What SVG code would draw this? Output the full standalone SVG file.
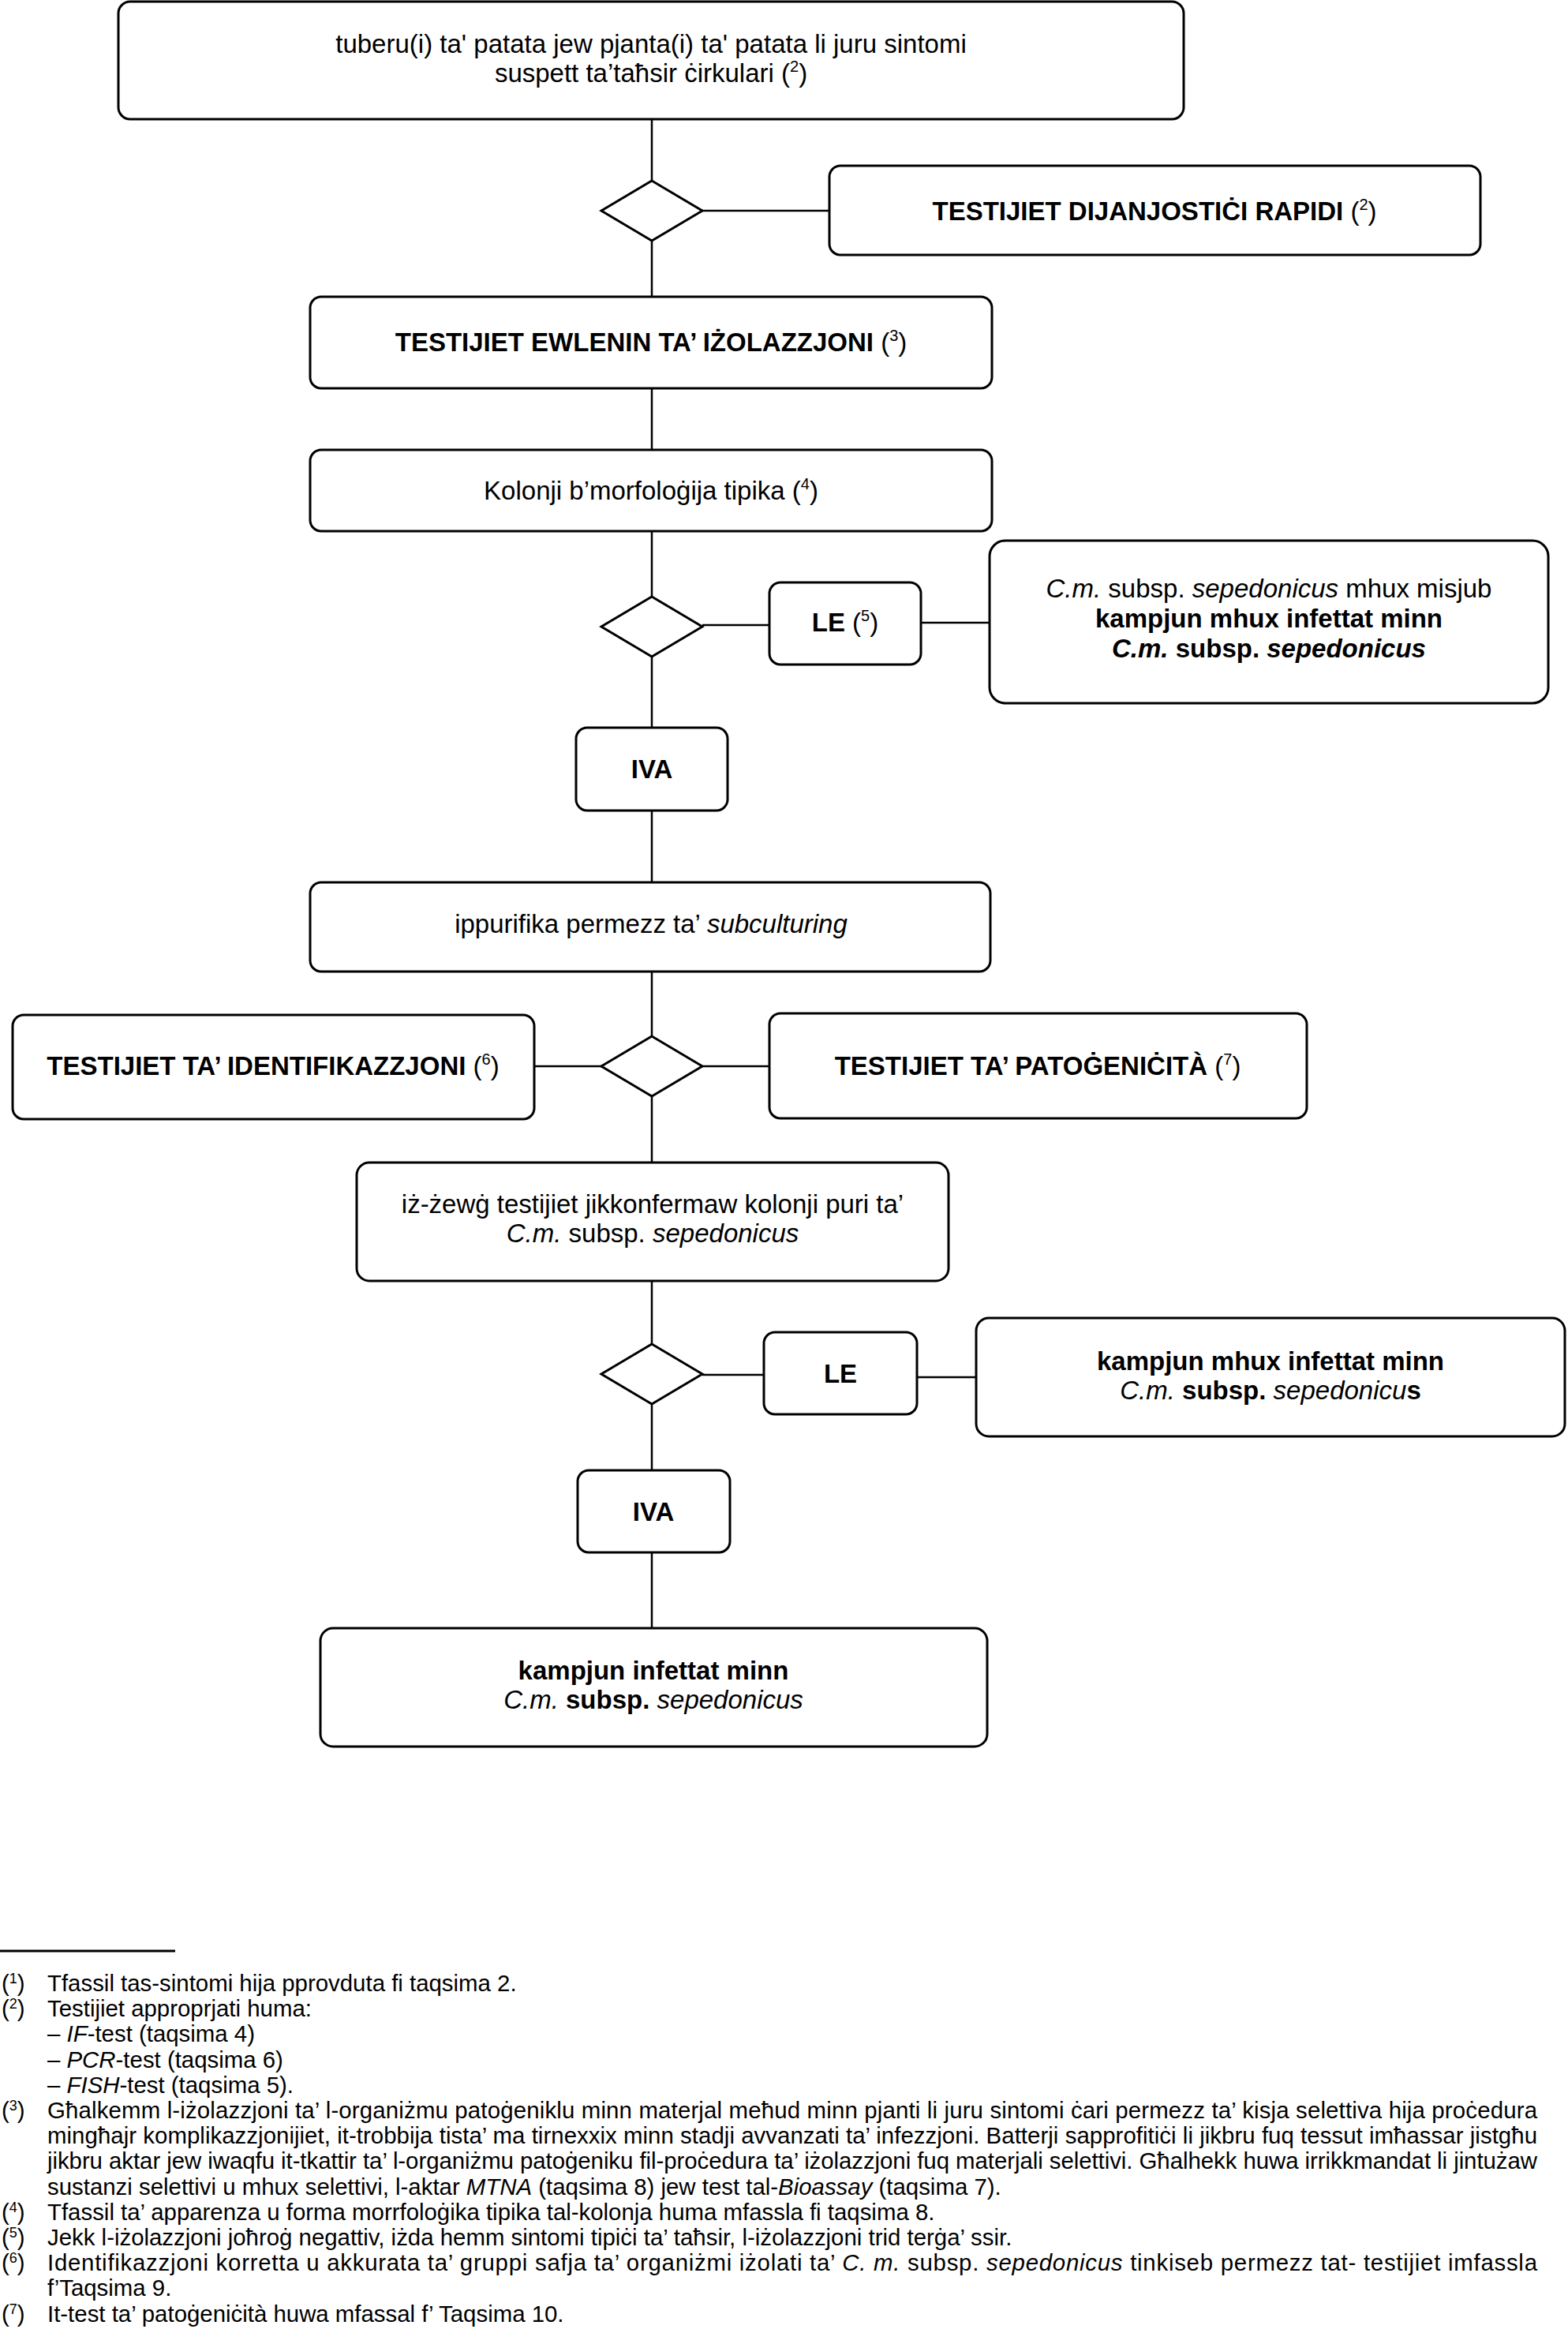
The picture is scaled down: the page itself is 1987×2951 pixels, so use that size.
<svg xmlns="http://www.w3.org/2000/svg" width="1987" height="2951" viewBox="0 0 1987 2951">
<style>
.box{fill:#fff;stroke:#000;stroke-width:3}
.conn{stroke:#000;stroke-width:2.5;fill:none}
.t{font-family:"Liberation Sans",Arial,sans-serif;font-size:33px;fill:#000;text-anchor:middle}
.b{font-weight:bold}
.i{font-style:italic}
.n{font-weight:normal}
.sup{font-size:20px;font-weight:normal}
.fn{font-family:"Liberation Sans",Arial,sans-serif;font-size:29.4px;fill:#000}
.fs{font-size:18px}
</style>
<rect width="1987" height="2951" fill="#fff"/>
<g id="connectors">
<line class="conn" x1="826" y1="151" x2="826" y2="229"/>
<line class="conn" x1="826" y1="305" x2="826" y2="376"/>
<line class="conn" x1="826" y1="492" x2="826" y2="570"/>
<line class="conn" x1="826" y1="673" x2="826" y2="756"/>
<line class="conn" x1="826" y1="832" x2="826" y2="922"/>
<line class="conn" x1="826" y1="1027" x2="826" y2="1118"/>
<line class="conn" x1="826" y1="1231" x2="826" y2="1313"/>
<line class="conn" x1="826" y1="1389" x2="826" y2="1473"/>
<line class="conn" x1="826" y1="1623" x2="826" y2="1703"/>
<line class="conn" x1="826" y1="1779" x2="826" y2="1863"/>
<line class="conn" x1="826" y1="1967" x2="826" y2="2063"/>
<line class="conn" x1="890" y1="267" x2="1051" y2="267"/>
<line class="conn" x1="890" y1="792" x2="975" y2="792"/>
<line class="conn" x1="1167" y1="789" x2="1254" y2="789"/>
<line class="conn" x1="677" y1="1351" x2="762" y2="1351"/>
<line class="conn" x1="890" y1="1351" x2="975" y2="1351"/>
<line class="conn" x1="890" y1="1742" x2="968" y2="1742"/>
<line class="conn" x1="1162" y1="1745" x2="1237" y2="1745"/>
</g>
<g id="n-start">
<rect class="box" x="150" y="2" width="1350" height="149" rx="15"/>
<text class="t" x="825" y="67">tuberu(i) ta' patata jew pjanta(i) ta' patata li juru sintomi</text>
<text class="t" x="825" y="104">suspett ta’taħsir ċirkulari (<tspan class="sup" dy="-13">2</tspan><tspan dy="13">)</tspan></text>
</g>
<g id="d1"><polygon class="box" points="826,229 890,267 826,305 762,267"/></g>
<g id="n-rapid">
<rect class="box" x="1051" y="210" width="825" height="113" rx="14"/>
<text class="t" x="1463" y="279"><tspan class="b">TESTIJIET DIJANJOSTIĊI RAPIDI</tspan> (<tspan class="sup" dy="-13">2</tspan><tspan dy="13">)</tspan></text>
</g>
<g id="n-isolation">
<rect class="box" x="393" y="376" width="864" height="116" rx="14"/>
<text class="t" x="825" y="445"><tspan class="b">TESTIJIET EWLENIN TA’ IŻOLAZZJONI</tspan> (<tspan class="sup" dy="-13">3</tspan><tspan dy="13">)</tspan></text>
</g>
<g id="n-colonies">
<rect class="box" x="393" y="570" width="864" height="103" rx="14"/>
<text class="t" x="825" y="633">Kolonji b’morfoloġija tipika (<tspan class="sup" dy="-13">4</tspan><tspan dy="13">)</tspan></text>
</g>
<g id="d2"><polygon class="box" points="826,756 890,794 826,832 762,794"/></g>
<g id="n-le1">
<rect class="box" x="975" y="738" width="192" height="104" rx="14"/>
<text class="t" x="1071" y="800"><tspan class="b">LE</tspan> (<tspan class="sup" dy="-13">5</tspan><tspan dy="13">)</tspan></text>
</g>
<g id="n-notfound">
<rect class="box" x="1254" y="685" width="708" height="206" rx="20"/>
<text class="t" x="1608" y="757"><tspan class="i">C.m.</tspan> subsp. <tspan class="i">sepedonicus</tspan> mhux misjub</text>
<text class="t b" x="1608" y="795">kampjun mhux infettat minn</text>
<text class="t b" x="1608" y="833"><tspan class="i">C.m.</tspan> subsp. <tspan class="i">sepedonicus</tspan></text>
</g>
<g id="n-iva1">
<rect class="box" x="730" y="922" width="192" height="105" rx="14"/>
<text class="t b" x="826" y="986">IVA</text>
</g>
<g id="n-purify">
<rect class="box" x="393" y="1118" width="862" height="113" rx="14"/>
<text class="t" x="825" y="1182">ippurifika permezz ta’ <tspan class="i">subculturing</tspan></text>
</g>
<g id="d3"><polygon class="box" points="826,1313 890,1351 826,1389 762,1351"/></g>
<g id="n-ident">
<rect class="box" x="16" y="1286" width="661" height="132" rx="14"/>
<text class="t" x="346" y="1362"><tspan class="b">TESTIJIET TA’ IDENTIFIKAZZJONI</tspan> (<tspan class="sup" dy="-13">6</tspan><tspan dy="13">)</tspan></text>
</g>
<g id="n-patho">
<rect class="box" x="975" y="1284" width="681" height="133" rx="14"/>
<text class="t" x="1315" y="1362"><tspan class="b">TESTIJIET TA’ PATOĠENIĊITÀ</tspan> (<tspan class="sup" dy="-13">7</tspan><tspan dy="13">)</tspan></text>
</g>
<g id="n-confirm">
<rect class="box" x="452" y="1473" width="750" height="150" rx="16"/>
<text class="t" x="827" y="1537">iż-żewġ testijiet jikkonfermaw kolonji puri ta’</text>
<text class="t" x="827" y="1574"><tspan class="i">C.m.</tspan> subsp. <tspan class="i">sepedonicus</tspan></text>
</g>
<g id="d4"><polygon class="box" points="826,1703 890,1741 826,1779 762,1741"/></g>
<g id="n-le2">
<rect class="box" x="968" y="1688" width="194" height="104" rx="14"/>
<text class="t b" x="1065" y="1752">LE</text>
</g>
<g id="n-notinfected">
<rect class="box" x="1237" y="1670" width="746" height="150" rx="16"/>
<text class="t b" x="1610" y="1736">kampjun mhux infettat minn</text>
<text class="t" x="1610" y="1773"><tspan class="i">C.m.</tspan><tspan class="b"> subsp.</tspan> <tspan class="i">sepedonicu</tspan><tspan class="b">s</tspan></text>
</g>
<g id="n-iva2">
<rect class="box" x="732" y="1863" width="193" height="104" rx="14"/>
<text class="t b" x="828" y="1927">IVA</text>
</g>
<g id="n-infected">
<rect class="box" x="406" y="2063" width="845" height="150" rx="16"/>
<text class="t b" x="828" y="2128">kampjun infettat minn</text>
<text class="t" x="828" y="2165"><tspan class="i">C.m.</tspan><tspan class="b"> subsp.</tspan> <tspan class="i">sepedonicus</tspan></text>
</g>
<g id="footnotes">
<line x1="0" y1="2472" x2="222" y2="2472" stroke="#000" stroke-width="3"/>
<text class="fn" x="2" y="2523">(<tspan class="fs" dy="-10">1</tspan><tspan dy="10">)</tspan></text>
<text class="fn" x="60" y="2523">Tfassil tas-sintomi hija pprovduta fi taqsima 2.</text>
<text class="fn" x="2" y="2555">(<tspan class="fs" dy="-10">2</tspan><tspan dy="10">)</tspan></text>
<text class="fn" x="60" y="2555">Testijiet approprjati huma:</text>
<text class="fn" x="60" y="2587">– <tspan class="i">IF</tspan>-test (taqsima 4)</text>
<text class="fn" x="60" y="2620">– <tspan class="i">PCR</tspan>-test (taqsima 6)</text>
<text class="fn" x="60" y="2652">– <tspan class="i">FISH</tspan>-test (taqsima 5).</text>
<text class="fn" x="2" y="2684">(<tspan class="fs" dy="-10">3</tspan><tspan dy="10">)</tspan></text>
<text class="fn" x="60" y="2684" textLength="1888">Għalkemm l-iżolazzjoni ta’ l-organiżmu patoġeniklu minn materjal meħud minn pjanti li juru sintomi ċari permezz ta’ kisja selettiva hija proċedura</text>
<text class="fn" x="60" y="2716" textLength="1888">mingħajr komplikazzjonijiet, it-trobbija tista’ ma tirnexxix minn stadji avvanzati ta’ infezzjoni. Batterji sapprofitiċi li jikbru fuq tessut imħassar jistgħu</text>
<text class="fn" x="60" y="2748" textLength="1888">jikbru aktar jew iwaqfu it-tkattir ta’ l-organiżmu patoġeniku fil-proċedura ta’ iżolazzjoni fuq materjali selettivi. Għalhekk huwa irrikkmandat li jintużaw</text>
<text class="fn" x="60" y="2781">sustanzi selettivi u mhux selettivi, l-aktar <tspan class="i">MTNA</tspan> (taqsima 8) jew test tal-<tspan class="i">Bioassay</tspan> (taqsima 7).</text>
<text class="fn" x="2" y="2813">(<tspan class="fs" dy="-10">4</tspan><tspan dy="10">)</tspan></text>
<text class="fn" x="60" y="2813">Tfassil ta’ apparenza u forma morrfoloġika tipika tal-kolonja huma mfassla fi taqsima 8.</text>
<text class="fn" x="2" y="2845">(<tspan class="fs" dy="-10">5</tspan><tspan dy="10">)</tspan></text>
<text class="fn" x="60" y="2845">Jekk l-iżolazzjoni joħroġ negattiv, iżda hemm sintomi tipiċi ta’ taħsir, l-iżolazzjoni trid terġa’ ssir.</text>
<text class="fn" x="2" y="2877">(<tspan class="fs" dy="-10">6</tspan><tspan dy="10">)</tspan></text>
<text class="fn" x="60" y="2877" textLength="1888">Identifikazzjoni korretta u akkurata ta’ gruppi safja ta’ organiżmi iżolati ta’ <tspan class="i">C. m.</tspan> subsp. <tspan class="i">sepedonicus</tspan> tinkiseb permezz tat- testijiet imfassla</text>
<text class="fn" x="60" y="2909">f’Taqsima 9.</text>
<text class="fn" x="2" y="2942">(<tspan class="fs" dy="-10">7</tspan><tspan dy="10">)</tspan></text>
<text class="fn" x="60" y="2942">It-test ta’ patoġeniċità huwa mfassal f’ Taqsima 10.</text>
</g>
</svg>
